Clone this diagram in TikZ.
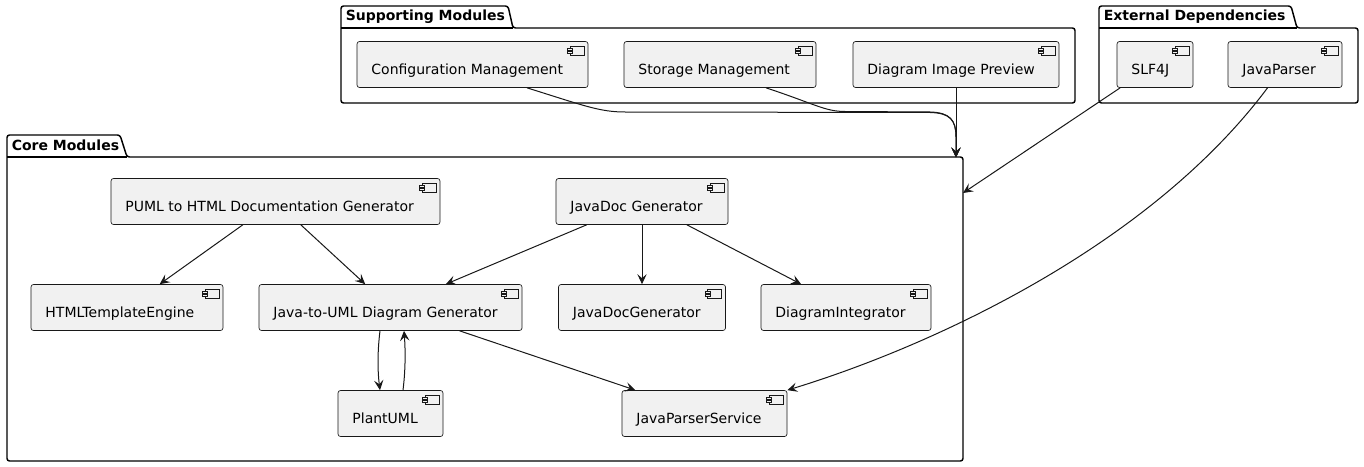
\documentclass[tikz,border=0pt]{standalone}
\usepackage{fontspec}
\setmainfont{DejaVu Sans}
\usetikzlibrary{arrows.meta,calc}
\definecolor{edgec}{HTML}{181818}
\definecolor{cfill}{HTML}{F1F1F1}
\newcommand\compicon[1]{%
  \draw[icon] ($(#1.north east)+(-18.5,5)$) rectangle ($(#1.north east)+(-4.5,14)$);
  \draw[icon] ($(#1.north east)+(-21,7)$) rectangle ($(#1.north east)+(-16,9)$);
  \draw[icon] ($(#1.north east)+(-21,10.5)$) rectangle ($(#1.north east)+(-16,12.5)$);
}
\begin{document}
\begin{tikzpicture}[x=0.75pt,y=-0.75pt,
  comp/.style={draw=edgec, line width=0.5pt, fill=cfill, rounded corners=1.9pt,
    minimum height=46*0.75pt, inner sep=0pt},
  bw/.style={minimum width=#1*0.75pt},
  lbl/.style={anchor=base west, inner sep=0pt, font=\fontsize{10.5pt}{12pt}\selectfont, text=black},
  plbl/.style={anchor=base west, inner sep=0pt, font=\bfseries\fontsize{10.5pt}{12pt}\selectfont, text=black},
  pkgline/.style={draw=black, line width=1.1pt, rounded corners=1.9pt},
  icon/.style={draw=edgec, line width=0.5pt, fill=cfill},
  arr/.style={draw=edgec, line width=0.75pt, -{Stealth[length=7.5pt,width=7pt,inset=3pt]}},
]
\useasboundingbox (0,0) rectangle (1364,467);
\fill[white] (0,0) rectangle (1364,467);

% packages
\draw[pkgline] (513,28) -- (508,6) -- (341,6) -- (341,103) -- (1075,103) -- (1075,28) -- cycle;
\draw[pkgline] (341,28) -- (513,28);
\node[plbl] (supL) at (345.5,21) {Supporting Modules};

\draw[pkgline] (1297,28) -- (1291,6) -- (1099,6) -- (1099,103) -- (1358,103) -- (1358,28) -- cycle;
\draw[pkgline] (1099,28) -- (1297,28);
\node[plbl] (extL) at (1103.5,21) {External Dependencies};

\draw[pkgline] (127,157) -- (120,135) -- (7,135) -- (7,461) -- (963,461) -- (963,157) -- cycle;
\draw[pkgline] (7,157) -- (127,157);
\node[plbl] (coreL) at (11.5,150) {Core Modules};

% components
\node[comp,bw=231] (cfg) at (472.5,64.5) {};
\node[comp,bw=192] (stor) at (720,64.5) {};
\node[comp,bw=206] (dip) at (956,64.5) {};
\node[comp,bw=76] (slf) at (1155,64.5) {};
\node[comp,bw=114] (jp) at (1285,64.5) {};
\node[comp,bw=329] (puml) at (275.5,201.5) {};
\node[comp,bw=172] (jdg) at (642,201.5) {};
\node[comp,bw=192] (hte) at (127,307.5) {};
\node[comp,bw=263] (j2u) at (390.5,307.5) {};
\node[comp,bw=167] (jdgen) at (642,307.5) {};
\node[comp,bw=170] (di) at (846,307.5) {};
\node[comp,bw=105] (pu) at (390.5,413.5) {};
\node[comp,bw=165] (jps) at (704.5,413.5) {};

\foreach \n in {cfg,stor,dip,slf,jp,puml,jdg,hte,j2u,jdgen,di,pu,jps} {\compicon{\n}}

\node[lbl] (cfgT) at ($(cfg.north west)+(14.5,33.5)$) {Configuration Management};
\node[lbl] (storT) at ($(stor.north west)+(14.5,33.5)$) {Storage Management};
\node[lbl] (dipT) at ($(dip.north west)+(14.5,33.5)$) {Diagram Image Preview};
\node[lbl] (slfT) at ($(slf.north west)+(14.5,33.5)$) {SLF4J};
\node[lbl] (jpT) at ($(jp.north west)+(14.5,33.5)$) {JavaParser};
\node[lbl] (pumlT) at ($(puml.north west)+(14.5,33.5)$) {PUML to HTML Documentation Generator};
\node[lbl] (jdgT) at ($(jdg.north west)+(14.5,33.5)$) {JavaDoc Generator};
\node[lbl] (hteT) at ($(hte.north west)+(14.5,33.5)$) {HTMLTemplateEngine};
\node[lbl] (j2uT) at ($(j2u.north west)+(14.5,33.5)$) {Java-to-UML Diagram Generator};
\node[lbl] (jdgenT) at ($(jdgen.north west)+(14.5,33.5)$) {JavaDocGenerator};
\node[lbl] (diT) at ($(di.north west)+(14.5,33.5)$) {DiagramIntegrator};
\node[lbl] (puT) at ($(pu.north west)+(14.5,33.5)$) {PlantUML};
\node[lbl] (jpsT) at ($(jps.north west)+(14.5,33.5)$) {JavaParserService};

% connectors
\coordinate (coreTop) at (956,157.5);
\coordinate (coreR) at (963,193);

\draw[arr] ($(cfg.south)+(54.5,0)$) .. controls (585,106) and (600,112) .. (625,112)
   -- (930,112.5) .. controls (950,113) and (956,120) .. (956,137) -- (coreTop);
\draw[arr] ($(stor.south)+(46,0)$) .. controls (815,104) and (825,111.5) .. (845,111.5)
   -- (930,112) .. controls (950,112.5) and (956,120) .. (956,137) -- (coreTop);
\draw[arr] (dip) -- (coreTop);
\draw[arr] (slf) -- (coreR);
\draw[arr] (jp) .. controls (1150,245) and (935,345) .. (jps.north east);

\draw[arr] (puml) -- (hte);
\draw[arr] (puml) -- (j2u);
\draw[arr] (jdg) -- (j2u);
\draw[arr] (jdg) -- (jdgen);
\draw[arr] (jdg) -- (di);
\draw[arr] (j2u) -- (jps);
\draw[arr] ($(j2u.south)+(-10.5,0)$) .. controls ($(j2u.south)+(-13,20)$) and ($(pu.north)+(-13,-20)$) .. ($(pu.north)+(-10.5,0)$);
\draw[arr] ($(pu.north)+(12.5,0)$) .. controls ($(pu.north)+(15,-20)$) and ($(j2u.south)+(15,20)$) .. ($(j2u.south)+(13.5,0)$);
\end{tikzpicture}
\end{document}
